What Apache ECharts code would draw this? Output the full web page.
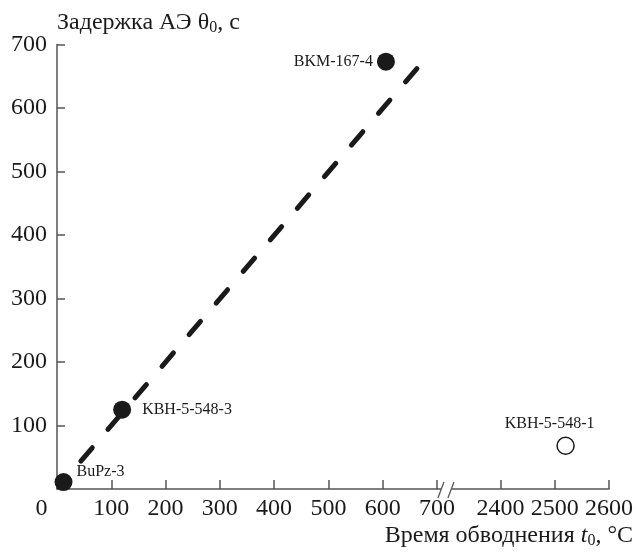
<!DOCTYPE html>
<html><head><meta charset="utf-8">
<script src="https://cdn.jsdelivr.net/npm/echarts@6/dist/echarts.min.js"></script>
<style>html,body{margin:0;padding:0;background:#fff}#c{width:638px;height:559px}</style>
</head><body><div id="c"></div>
<script>
// ---- data ----
const filledNames = ['BuPz-3', 'KBH-5-548-3', 'BKM-167-4'];
const filledX = [12, 120, 606];
const filledY = [11, 125, 673];
const openNames = ['KBH-5-548-1'];
const openX = [2520];
const openY = [68];
const trendX = [44, 664];
const trendY = [44, 663];
const xTickValues = [0, 100, 200, 300, 400, 500, 600, 700, 2400, 2500, 2600];
const yTickValues = [100, 200, 300, 400, 500, 600, 700];
const xBreakStart = 700, xBreakEnd = 2400;

const FONT = "'Liberation Serif','Times New Roman',serif";
const INK = '#1a1a1a';
const AXIS = '#555';

const chart = echarts.init(document.getElementById('c'), null, {renderer: 'canvas'});

const labelStyle = {show: true, formatter: '{b}', color: INK, fontFamily: FONT, fontSize: 16};

const filledData = filledNames.map((n, i) => ({name: n, value: [filledX[i], filledY[i]]}));
filledData[0].label = Object.assign({}, labelStyle, {position: 'right', distance: 4, offset: [0, -10]});
filledData[1].label = Object.assign({}, labelStyle, {position: 'right', distance: 11});
filledData[2].label = Object.assign({}, labelStyle, {position: 'left', distance: 4});
const openData = openNames.map((n, i) => ({name: n, value: [openX[i], openY[i]],
  label: Object.assign({}, labelStyle, {position: 'top', distance: 5, offset: [-16, 0]})}));

chart.setOption({
  animation: false,
  backgroundColor: '#fff',
  grid: {left: 57, top: 44.5, right: 29, bottom: 70, containLabel: false},
  xAxis: {
    type: 'value', min: 0, max: 2600, interval: 100,
    breaks: [{start: xBreakStart, end: xBreakEnd, gap: 117}],
    breakArea: {show: false},
    splitLine: {show: false},
    axisLine: {show: true, lineStyle: {color: AXIS, width: 1.5}},
    axisTick: {show: true, inside: true, length: 9, lineStyle: {color: AXIS, width: 1.5}},
    axisLabel: {
      color: INK, fontFamily: FONT, fontSize: 24, margin: 8,
      formatter: v => xTickValues.indexOf(v) < 0 ? '' : (v === 0 ? '{z|0}' : String(v)),
      rich: {z: {fontFamily: FONT, fontSize: 24, color: INK, padding: [0, 31, 0, 0]}}
    },
    name: 'Время обводнения {it|t}{sub|0}, °C',
    nameLocation: 'end', nameGap: 24,
    nameTextStyle: {
      color: INK, fontFamily: FONT, fontSize: 24, align: 'right', verticalAlign: 'top',
      padding: [34, 0, 0, 0],
      rich: {
        it: {fontFamily: FONT, fontSize: 24, fontStyle: 'italic', color: INK},
        sub: {fontFamily: FONT, fontSize: 16, color: INK, padding: [10, 0, 0, 0]}
      }
    }
  },
  yAxis: {
    type: 'value', min: 0, max: 700, interval: 100,
    splitLine: {show: false},
    axisLine: {show: true, lineStyle: {color: AXIS, width: 1.5}},
    axisTick: {show: true, inside: true, length: 8, lineStyle: {color: AXIS, width: 1.5}},
    axisLabel: {
      color: INK, fontFamily: FONT, fontSize: 24, margin: 10,
      formatter: v => yTickValues.indexOf(v) < 0 ? '' : String(v)
    },
    name: 'Задержка АЭ θ{sub|0}, с',
    nameLocation: 'end', nameGap: 9,
    nameTextStyle: {
      color: INK, fontFamily: FONT, fontSize: 24, align: 'left',
      rich: {sub: {fontFamily: FONT, fontSize: 16, color: INK, padding: [10, 0, 0, 0]}}
    }
  },
  series: [
    {
      type: 'line', data: trendX.map((x, i) => [x, trendY[i]]), symbol: 'none', z: 1,
      lineStyle: {color: INK, width: 5, type: [17.5, 24.1], cap: 'round'}
    },
    {
      type: 'scatter', data: filledData, symbolSize: 18, z: 3,
      itemStyle: {color: INK, opacity: 1}
    },
    {
      type: 'scatter', data: openData, symbolSize: 17, z: 3,
      itemStyle: {color: '#fff', borderColor: INK, borderWidth: 1.5, opacity: 1}
    }
  ]
});

// axis line through the break and the "//" marks, placed from the axis scale
const p700 = chart.convertToPixel({xAxisIndex: 0}, xBreakStart);
const p2400 = chart.convertToPixel({xAxisIndex: 0}, xBreakEnd);
const y0 = chart.convertToPixel({yAxisIndex: 0}, 0);
const ls = {stroke: AXIS, lineWidth: 1.5};
chart.setOption({
  graphic: [
    {type: 'line', shape: {x1: p700, y1: y0, x2: p700 + 4, y2: y0}, style: ls, z: 50},
    {type: 'line', shape: {x1: p700 + 15, y1: y0, x2: p2400, y2: y0}, style: ls, z: 50},
    {type: 'line', shape: {x1: p700 + 1, y1: y0 + 9, x2: p700 + 7, y2: y0 - 7}, style: {stroke: AXIS, lineWidth: 1.3}, z: 51},
    {type: 'line', shape: {x1: p700 + 11, y1: y0 + 9, x2: p700 + 17, y2: y0 - 7}, style: {stroke: AXIS, lineWidth: 1.3}, z: 51}
  ]
});
</script>
</body></html>
